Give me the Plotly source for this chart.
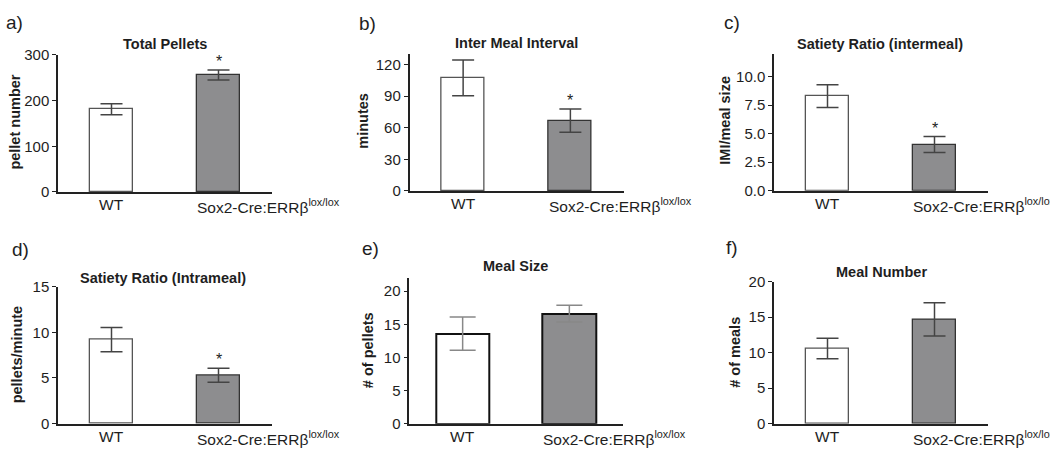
import plotly.graph_objects as go

W, H = 1050, 457

# ---------------- data ----------------
groups = ["WT", "Sox2-Cre:ERRβ<sup>lox/lox</sup>"]
panel_labels = ["a)", "b)", "c)", "d)", "e)", "f)"]
titles = ["Total Pellets", "Inter Meal Interval", "Satiety Ratio (intermeal)",
          "Satiety Ratio (Intrameal)", "Meal Size", "Meal Number"]
ylabels = ["pellet number", "minutes", "IMI/meal size",
           "pellets/minute", "# of pellets", "# of meals"]

total_pellets = [181, 256]
total_pellets_sem = [12, 11]
inter_meal_interval = [107.3, 66.7]
inter_meal_interval_sem = [17, 11]
satiety_intermeal = [8.3, 4.05]
satiety_intermeal_sem = [1.0, 0.7]
satiety_intrameal = [9.2, 5.3]
satiety_intrameal_sem = [1.33, 0.77]
meal_size = [13.6, 16.6]
meal_size_sem = [2.5, 1.27]
meal_number = [10.6, 14.7]
meal_number_sem = [1.45, 2.35]

means = [total_pellets, inter_meal_interval, satiety_intermeal,
         satiety_intrameal, meal_size, meal_number]
sems = [total_pellets_sem, inter_meal_interval_sem, satiety_intermeal_sem,
        satiety_intrameal_sem, meal_size_sem, meal_number_sem]
significant = [True, True, True, True, False, False]

y_max = [300, 130, 12, 15, 22, 20]
y_dtick = [100, 30, 2.5, 5, 5, 5]
y_fmt = ["d", "d", ".1f", "d", "d", "d"]

# ---------------- layout (pixels) ----------------
x_dom = [(58, 272), (409.5, 624), (774, 988), (58, 272), (409.3, 622.7), (774, 988)]
y_dom = [(47.7, 190), (46.7, 189), (46.7, 188.7), (288.3, 430.7), (279.3, 430.7), (283.3, 430.7)]
bar_w = [0.4, 0.4, 0.4, 0.4, 0.5, 0.4]
title_pos = [(165, 36), (516.7, 35), (880, 36), (163, 279.5), (515.7, 267.3), (881.7, 272.7)]
ylabel_pos = [(15, 118), (363, 116), (725, 116), (16.7, 359), (368.3, 354), (735, 357)]
plabel_pos = [(14, 14.5), (367, 15), (731.7, 14), (20, 250), (370, 248.3), (731.7, 248)]

FONT = "Arial, Liberation Sans, sans-serif"
TXT = "#1e1e1e"
WT_FILL, KO_FILL = "#ffffff", "#8d8d8f"

def px(x):
    return x / W

def py(y):
    return 1 - y / H

fig = go.Figure()
annotations = []
layout = {}

for i in range(6):
    k = "" if i == 0 else str(i + 1)
    xa, ya = "x" + k, "y" + k
    thick = (i == 4)
    fig.add_trace(go.Bar(
        x=[0, 1], y=means[i], width=bar_w[i],
        xaxis=xa, yaxis=ya,
        marker=dict(color=[WT_FILL, KO_FILL],
                    line=dict(color=["#111111" if thick else "#555555",
                                     "#111111" if thick else "#333333"],
                              width=2 if thick else 1.3)),
        error_y=dict(type="data", array=sems[i], visible=True,
                     color="#888888" if thick else "#444444",
                     thickness=1.5, width=13 if thick else 11),
        showlegend=False, hoverinfo="skip",
    ))
    layout["xaxis" + k] = dict(
        domain=[px(x_dom[i][0]), px(x_dom[i][1])], range=[-0.5, 1.5],
        anchor=ya, showline=True, linecolor="#222222", linewidth=1.5, layer="above traces",
        showticklabels=False, ticks="", showgrid=False, zeroline=False, fixedrange=True)
    layout["yaxis" + k] = dict(
        domain=[py(y_dom[i][1]), py(y_dom[i][0])], range=[0, y_max[i]],
        anchor=xa, showline=True, linecolor="#222222", linewidth=1.5, layer="above traces",
        ticks="outside", ticklen=4, tickwidth=1.2, tickcolor="#222222",
        dtick=y_dtick[i], tick0=0, tickformat=y_fmt[i],
        tickfont=dict(family=FONT, size=15, color=TXT),
        showgrid=False, zeroline=False, fixedrange=True)
    # x category labels
    annotations.append(dict(xref=xa, yref=ya, x=0, y=0, text=groups[0],
                            xanchor="center", yanchor="top", yshift=-2, showarrow=False,
                            font=dict(family=FONT, size=15.5, color=TXT)))
    annotations.append(dict(xref=xa, yref=ya, x=1 - bar_w[i] / 2, y=0, text=groups[1],
                            xanchor="left", yanchor="top", yshift=-2, xshift=-2, showarrow=False,
                            font=dict(family=FONT, size=15.5, color=TXT)))
    # significance star
    if significant[i]:
        annotations.append(dict(xref=xa, yref=ya, x=1, y=means[i][1] + sems[i][1],
                                text="*", xanchor="center", yanchor="bottom", yshift=-2,
                                showarrow=False,
                                font=dict(family=FONT, size=16, color=TXT)))
    # title
    annotations.append(dict(xref="paper", yref="paper", x=px(title_pos[i][0]), y=py(title_pos[i][1]),
                            text="<b>" + titles[i] + "</b>", xanchor="center", yanchor="middle",
                            showarrow=False, font=dict(family=FONT, size=14.5, color=TXT)))
    # y label
    annotations.append(dict(xref="paper", yref="paper", x=px(ylabel_pos[i][0]), y=py(ylabel_pos[i][1]),
                            text="<b>" + ylabels[i] + "</b>", textangle=-90,
                            xanchor="center", yanchor="middle",
                            showarrow=False, font=dict(family=FONT, size=14.5, color=TXT)))
    # panel letter
    annotations.append(dict(xref="paper", yref="paper", x=px(plabel_pos[i][0]), y=py(plabel_pos[i][1]),
                            text=panel_labels[i], xanchor="center", yanchor="middle",
                            showarrow=False, font=dict(family=FONT, size=19, color=TXT)))

fig.update_layout(
    width=W, height=H, margin=dict(l=0, r=0, t=0, b=0),
    paper_bgcolor="white", plot_bgcolor="white",
    annotations=annotations, bargap=0, **layout)

fig.write_html("out.html", config={"displayModeBar": False},
               post_script="document.body.style.margin='0';document.body.style.overflow='hidden';")
